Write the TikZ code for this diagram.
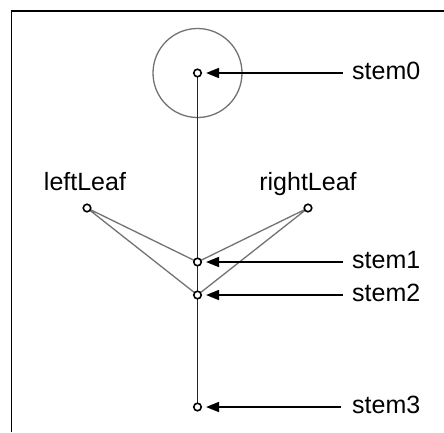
\documentclass[tikz,border=0pt]{standalone}
\usepackage{fontspec}
\setmainfont{Liberation Sans}
\usetikzlibrary{arrows.meta}
\begin{document}
\begin{tikzpicture}[x=1pt,y=-1pt,
  pt/.style={circle,draw=black,fill=white,line width=1.6pt,inner sep=0pt,minimum size=7.5pt},
  lbl/.style={font=\fontsize{25}{30}\selectfont,inner sep=0pt},
  pointer/.style={draw=black,line width=1.8pt,-{Triangle[length=13pt,width=10pt]}},
  leaf/.style={draw=black!55,line width=1.3pt},
  stemline/.style={draw=black!85,line width=1.3pt}]
\useasboundingbox (0,0) rectangle (444,432);
\fill[white] (0,0) rectangle (444,432);
\draw[line width=1.6pt,black] (11.5,432) -- (11.5,11) -- (444,11);
\draw[black!55,line width=1.3pt] (197.5,73) circle (44.5);
\coordinate (s0) at (197.5,73);
\coordinate (s1) at (197.5,262);
\coordinate (s2) at (197.5,295);
\coordinate (s3) at (197.5,407);
\coordinate (ll) at (87,208);
\coordinate (rl) at (308,208);
\draw[stemline] (s0) -- (s3);
\draw[leaf] (ll) -- (s1) (ll) -- (s2) (rl) -- (s1) (rl) -- (s2);
\node[pt] (n0) at (s0) {};
\node[pt] (n1) at (s1) {};
\node[pt] (n2) at (s2) {};
\node[pt] (n3) at (s3) {};
\node[pt] (nl) at (ll) {};
\node[pt] (nr) at (rl) {};
\node[lbl,anchor=base] (tl) at (85,190) {leftLeaf};
\node[lbl,anchor=base] (tr) at (308,190) {rightLeaf};
\node[lbl,anchor=base west] (t0) at (352,79) {stem0};
\node[lbl,anchor=base west] (t1) at (352,268) {stem1};
\node[lbl,anchor=base west] (t2) at (352,301) {stem2};
\node[lbl,anchor=base west] (t3) at (352,413) {stem3};
\coordinate (a0) at (343,73);
\coordinate (a1) at (343,262);
\coordinate (a2) at (343,295);
\coordinate (a3) at (341,407);
\draw[pointer] (a0) -- ([xshift=4pt]n0.east);
\draw[pointer] (a1) -- ([xshift=4pt]n1.east);
\draw[pointer] (a2) -- ([xshift=4pt]n2.east);
\draw[pointer] (a3) -- ([xshift=4pt]n3.east);
\end{tikzpicture}
\end{document}
